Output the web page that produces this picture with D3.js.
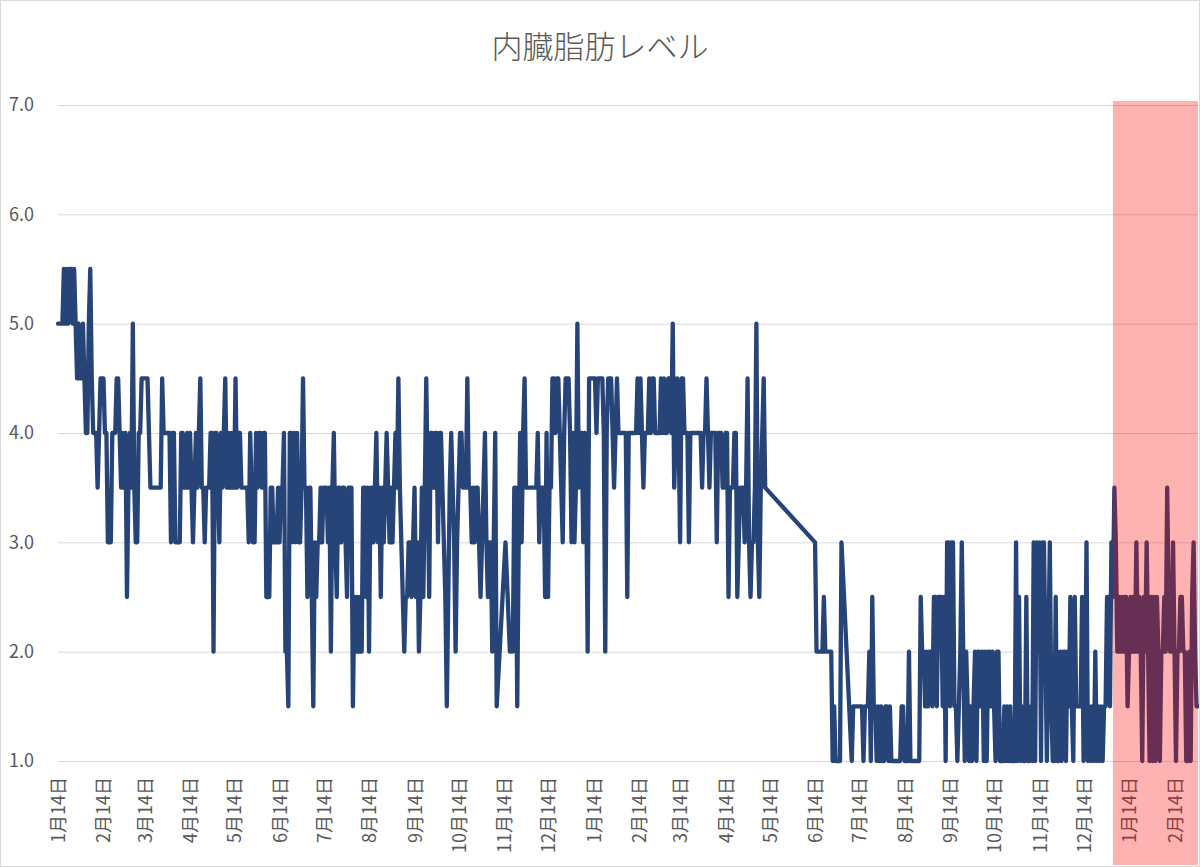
<!DOCTYPE html>
<html lang="ja">
<head>
<meta charset="utf-8">
<title>内臓脂肪レベル</title>
<script src="https://cdn.jsdelivr.net/npm/d3@7"></script>
<style>
    body { margin: 0; background: #ffffff; }
    svg { display: block; }
</style>
</head>
<body>
<svg id="chart"></svg>
<script>
// daily readings, split in runs where days are missing (line is drawn across the gaps)
const runStarts = ['2018-01-14', '2018-11-15', '2018-11-18', '2019-06-14', '2019-07-09'];

const levels2018 = [
    5.0,5.0,5.0,5.0,5.5,5.0,5.5,5.0,5.5,5.5,
    5.0,5.5,5.0,4.5,5.0,4.5,4.5,5.0,4.5,4.0,
    4.0,5.0,5.5,4.5,4.0,4.0,4.0,3.5,4.0,4.5,
    4.5,4.5,4.0,4.0,3.0,3.0,3.0,4.0,4.0,4.0,
    4.5,4.5,4.0,3.5,4.0,3.5,4.0,2.5,3.5,4.0,
    3.5,5.0,3.5,3.0,3.0,4.0,4.0,4.5,4.5,4.5,
    4.5,4.5,4.0,3.5,3.5,3.5,3.5,3.5,3.5,3.5,
    3.5,4.5,4.0,4.0,4.0,4.0,4.0,3.0,4.0,4.0,
    3.0,3.0,3.0,3.0,4.0,4.0,3.5,3.5,4.0,3.5,
    4.0,3.5,3.0,3.5,4.0,3.5,4.0,4.5,3.5,3.5,
    3.0,3.5,3.5,3.5,4.0,4.0,2.0,4.0,4.0,3.5,
    3.0,4.0,3.5,4.0,4.5,3.5,4.0,3.5,4.0,3.5,
    3.5,4.5,3.5,4.0,4.0,3.5,3.5,3.5,3.5,3.5,
    3.0,4.0,3.5,3.0,3.0,4.0,3.5,4.0,4.0,3.5,
    4.0,4.0,2.5,2.5,2.5,3.5,3.5,3.0,3.0,3.0,
    3.5,3.0,3.5,3.5,4.0,2.0,2.0,1.5,4.0,4.0,
    3.0,4.0,3.0,4.0,3.0,3.0,3.5,4.5,3.5,3.5,
    2.5,3.5,3.5,2.5,1.5,3.0,2.5,3.0,3.0,3.5,
    3.0,3.5,3.5,3.5,3.0,3.5,2.0,3.5,4.0,3.0,
    2.5,3.5,3.5,3.0,3.5,3.5,3.0,2.5,3.5,3.5,
    3.5,1.5,2.5,2.0,2.5,2.0,2.5,2.0,3.5,3.5,
    2.5,3.5,2.0,3.5,3.5,3.0,3.5,4.0,3.0,3.5,
    2.5,3.5,3.0,3.5,4.0,3.5,3.0,3.5,3.0,3.5,
    4.0,3.5,4.5,3.5,3.0,2.5,2.0,2.5,2.5,3.0,
    3.0,2.5,3.0,3.5,2.5,3.0,2.0,2.5,3.5,2.5,
    3.5,4.5,3.5,2.5,4.0,4.0,3.5,4.0,4.0,3.0,
    4.0,4.0,3.5,3.0,2.5,1.5,2.5,3.5,4.0,3.5,
    3.0,2.0,3.0,3.5,4.0,4.0,3.5,3.5,3.5,4.5,
    3.5,3.5,3.0,3.5,3.0,3.5,3.5,3.0,2.5,3.0,
    3.5,4.0,3.0,2.5,3.0,3.0,2.0,3.0,4.0,1.5
];

const levelsNov15 = [3.0];

const levelsWinter = [
    2.0,2.0,2.0,3.5,3.5,1.5,3.0,4.0,3.0,4.0,
    4.5,3.5,3.5,3.5,3.5,3.5,3.5,3.5,3.5,4.0,
    3.0,3.5,3.5,3.5,2.5,4.0,2.5,3.5,3.5,4.5,
    4.5,4.0,4.5,4.5,4.0,3.5,3.0,4.0,4.5,4.5,
    4.5,4.0,3.0,4.0,3.0,3.5,5.0,3.5,4.0,4.0,
    3.0,4.0,3.5,2.0,4.5,4.5,4.5,4.5,4.5,4.0,
    4.5,4.5,4.5,4.5,4.0,2.0,4.0,4.5,4.5,4.5,
    4.0,3.5,4.0,4.5,4.0,4.0,4.0,4.0,4.0,4.0,
    2.5,4.0,4.0,4.0,4.0,4.0,4.0,4.5,4.0,4.5,
    4.0,3.5,4.0,4.0,4.0,4.5,4.0,4.5,4.5,4.0,
    4.0,4.0,4.0,4.5,4.0,4.5,4.0,4.0,4.5,4.5,
    4.0,5.0,3.5,4.0,4.5,4.0,3.0,4.5,4.5,4.0,
    4.0,4.0,3.0,4.0,4.0,4.0,4.0,4.0,4.0,4.0,
    4.0,3.5,4.0,4.0,4.5,4.0,3.5,4.0,4.0,4.0,
    4.0,3.0,4.0,4.0,4.0,3.5,3.5,4.0,4.0,2.5,
    3.5,3.5,3.5,4.0,4.0,2.5,3.0,3.5,3.5,3.5,
    3.0,3.5,4.5,3.0,2.5,3.0,3.0,3.5,5.0,3.0,
    2.5,3.5,4.0,4.5,3.5
];

const levelsJune = [
    3.0,2.0,2.0,2.0,2.0,2.0,2.5,2.0,2.0,2.0,
    2.0,2.0,1.0,1.5,1.0,1.0,1.0,1.0,3.0
];

const levels2019 = [
    1.0,1.5,1.5,1.5,1.5,1.5,1.5,1.5,1.0,1.5,
    1.5,1.5,2.0,1.0,2.5,1.5,1.5,1.0,1.5,1.0,
    1.5,1.0,1.0,1.5,1.5,1.0,1.5,1.0,1.0,1.0,
    1.0,1.0,1.0,1.0,1.5,1.5,1.0,1.0,1.0,2.0,
    1.0,1.0,1.0,1.0,1.0,1.0,1.0,2.5,2.0,2.0,
    1.5,2.0,1.5,2.0,2.0,1.5,2.5,2.5,1.5,2.5,
    2.5,2.5,1.5,2.5,1.0,3.0,3.0,1.5,3.0,3.0,
    1.5,1.5,1.0,1.5,2.0,3.0,2.0,1.0,2.0,1.5,
    1.0,1.5,1.0,1.5,2.0,1.0,2.0,2.0,1.5,2.0,
    1.0,2.0,1.0,2.0,2.0,1.5,2.0,1.5,1.0,2.0,
    2.0,1.0,1.0,1.0,1.5,1.0,1.5,1.0,1.5,1.0,
    1.0,1.0,3.0,1.0,2.5,1.0,1.5,1.0,1.0,2.5,
    1.0,1.0,1.5,1.0,3.0,1.0,3.0,2.0,3.0,1.0,
    3.0,3.0,2.0,1.0,2.0,3.0,1.5,1.0,1.0,2.5,
    1.0,1.0,2.0,1.0,2.0,2.0,1.0,2.0,1.5,2.5,
    1.5,1.0,2.5,1.5,1.5,1.5,1.5,2.5,1.0,1.5,
    3.0,1.0,1.5,1.0,1.5,1.0,2.0,1.0,1.5,1.0,
    1.5,1.0,1.5,1.5,2.5,2.5,1.5,3.0,2.5,3.5,
    3.0,2.0,2.5,2.0,2.5,2.0,2.5,2.5,1.5,2.0,
    2.5,2.0,2.5,2.0,3.0,2.0,2.5,2.0,1.0,2.5,
    2.0,3.0,2.0,1.0,2.5,1.0,2.5,1.0,2.5,2.0,
    1.0,2.0,2.0,2.5,2.0,3.5,2.5,2.0,2.0,3.0,
    2.0,1.0,2.0,2.0,2.5,2.5,2.0,2.0,1.0,1.0,
    2.0,1.0,2.5,3.0,2.0,1.5,1.5
];

const runLevels = [levels2018, levelsNov15, levelsWinter, levelsJune, levels2019];

// axis settings
const yTicks = [1, 2, 3, 4, 5, 6, 7];
const firstTick = '2018-01-14';
const lastTick = '2020-02-14';
// start of the shaded (new year) period
const highlightStart = '2020-01-03';
const chartTitle = '内臓脂肪レベル';

class Linechart {
    constructor(_config, _data) {
        this.data = _data;

        // config object with defaults
        this.config = {
            parentElement: _config.parentElement || 'body',
            width: _config.width || 1200,
            height: _config.height || 867,
            margin: _config.margin || { top: 105, right: 2, bottom: 106, left: 58 },
            lineColor: _config.lineColor || '#264478',
            textColor: _config.textColor || '#595959',
            gridColor: _config.gridColor || '#d9d9d9',
            font: '"Noto Sans CJK JP", "Noto Sans", sans-serif'
        };

        this.initVis();
    }

    initVis() {
        const that = this;
        const m = that.config.margin;

        // calculate the inner bounds
        that.boundedWidth = that.config.width - m.left - m.right;
        that.boundedHeight = that.config.height - m.top - m.bottom;

        that.xScale = d3.scaleUtc()
            .domain(d3.extent(that.data, d => d.date))
            .range([0, that.boundedWidth]);

        that.yScale = d3.scaleLinear()
            .domain(d3.extent(yTicks))
            .range([that.boundedHeight, 0]);

        // one tick on the 14th of every month
        that.monthTicks = [];
        for (let t = parseDate(firstTick); t <= parseDate(lastTick); t = d3.utcMonth.offset(t, 1)) {
            that.monthTicks.push(t);
        }

        that.wrapper = d3.select(that.config.parentElement)
            .attr('width', that.config.width)
            .attr('height', that.config.height)
            .style('font-family', that.config.font);

        that.wrapper.append('rect')
            .attr('width', that.config.width)
            .attr('height', that.config.height)
            .attr('fill', '#ffffff');

        // real drawing area
        that.bounds = that.wrapper.append('g')
            .attr('transform', `translate(${m.left}, ${m.top})`);

        that.renderVis();
    }

    renderVis() {
        const that = this;
        const cfg = that.config;

        // title
        that.wrapper.append('text')
            .attr('x', cfg.width / 2)
            .attr('y', 58)
            .attr('text-anchor', 'middle')
            .attr('fill', cfg.textColor)
            .style('font-size', '31px')
            .style('font-weight', 300)
            .text(chartTitle);

        // y axis with gridlines
        const yAxis = d3.axisLeft(that.yScale)
            .tickValues(yTicks)
            .tickSize(-that.boundedWidth)
            .tickPadding(24)
            .tickFormat(d3.format('.1f'));

        const yG = that.bounds.append('g').call(yAxis);
        yG.select('.domain').remove();
        yG.selectAll('line').attr('stroke', cfg.gridColor).attr('stroke-width', 1);
        yG.selectAll('text')
            .attr('fill', cfg.textColor)
            .style('font-size', '18px')
            .style('font-family', cfg.font);

        // x axis, labels turned 270 degrees
        const xAxis = d3.axisBottom(that.xScale)
            .tickValues(that.monthTicks)
            .tickSize(0)
            .tickFormat(d => `${d.getUTCMonth() + 1}月${d.getUTCDate()}日`);

        const xG = that.bounds.append('g')
            .attr('transform', `translate(0, ${that.boundedHeight})`)
            .call(xAxis);
        xG.select('.domain').remove();
        xG.selectAll('text')
            .attr('transform', 'rotate(-90)')
            .attr('text-anchor', 'end')
            .attr('x', -16)
            .attr('y', 0)
            .attr('dy', '0.36em')
            .attr('fill', cfg.textColor)
            .style('font-size', '18px')
            .style('font-family', cfg.font);

        // the level line
        const line = d3.line()
            .x(d => that.xScale(d.date))
            .y(d => that.yScale(d.value));

        that.bounds.append('path')
            .datum(that.data)
            .attr('d', line)
            .attr('fill', 'none')
            .attr('stroke', cfg.lineColor)
            .attr('stroke-width', 4.3)
            .attr('stroke-linejoin', 'round')
            .attr('stroke-linecap', 'round');

        // translucent red box over the new year
        const hx = that.xScale(parseDate(highlightStart));
        that.bounds.append('rect')
            .attr('x', hx)
            .attr('y', that.yScale(7) - 4)
            .attr('width', that.boundedWidth - hx)
            .attr('height', cfg.height - cfg.margin.top - 2 - (that.yScale(7) - 4))
            .attr('fill', '#ff0000')
            .attr('fill-opacity', 0.3);

        // chart border
        that.wrapper.append('rect')
            .attr('x', 0.5)
            .attr('y', 0.5)
            .attr('width', cfg.width - 1)
            .attr('height', cfg.height - 1)
            .attr('fill', 'none')
            .attr('stroke', cfg.gridColor);
    }
}

const parseDate = d3.utcParse('%Y-%m-%d');

const data = runLevels.flatMap((levels, i) => levels.map((v, k) => ({
    date: d3.utcDay.offset(parseDate(runStarts[i]), k),
    value: v
})));

new Linechart({ parentElement: '#chart' }, data);
</script>
</body>
</html>
